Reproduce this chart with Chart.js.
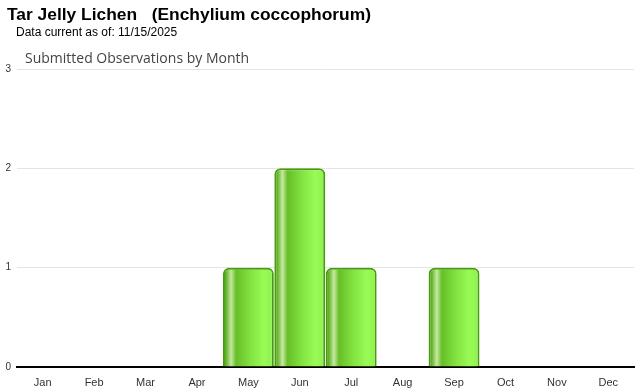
<!DOCTYPE html>
<html>
<head>
<meta charset="utf-8">
<script src="https://cdn.jsdelivr.net/npm/chart.js@4"></script>
<style>
    body { margin: 0; background: #fff; }
    #wrap { position: relative; width: 640px; height: 390px; }
    #title { position: absolute; left: 7px; top: 4px; font: bold 17.4px "Liberation Sans", Arial, sans-serif; color: #000; white-space: pre; }
    #sub { position: absolute; left: 16px; top: 25px; font: 12px "Liberation Sans", Arial, sans-serif; color: #000; }
    #ctitle { position: absolute; left: 25px; top: 48px; font: 14px "Open Sans", sans-serif; color: #444; }
    canvas { position: absolute; left: 0; top: 0; }
</style>
</head>
<body>
<div id="wrap">
    <canvas id="chart" width="640" height="390"></canvas>
    <div id="title">Tar Jelly Lichen   (Enchylium coccophorum)</div>
    <div id="sub">Data current as of: 11/15/2025</div>
    <div id="ctitle">Submitted Observations by Month</div>
</div>
<script>
const months = ['Jan', 'Feb', 'Mar', 'Apr', 'May', 'Jun', 'Jul', 'Aug', 'Sep', 'Oct', 'Nov', 'Dec'];
const observations = [0, 0, 0, 0, 1, 2, 1, 0, 1, 0, 0, 0];
const yTicks = [0, 1, 2, 3];

const catPct = 0.99;

// horizontal shading across each bar, like a glossy cylinder
function barGradient(ctx) {
    const chart = ctx.chart;
    const x = chart.scales.x;
    if (!x || !chart.chartArea) return '#77dd33';
    const center = x.getPixelForValue(ctx.dataIndex);
    const w = x.width / months.length * catPct;
    const g = chart.ctx.createLinearGradient(center - w / 2, 0, center + w / 2, 0);
    g.addColorStop(0, '#4c9c12');
    g.addColorStop(0.06, '#62b426');
    g.addColorStop(0.16, '#c6e8a0');
    g.addColorStop(0.26, '#66bf28');
    g.addColorStop(0.55, '#84e442');
    g.addColorStop(0.8, '#98fb56');
    g.addColorStop(1, '#8df04c');
    return g;
}

new Chart(document.getElementById('chart'), {
    type: 'bar',
    data: {
        labels: months,
        datasets: [{
            data: observations,
            backgroundColor: barGradient,
            borderColor: '#469c0c',
            borderWidth: 2,
            borderSkipped: 'bottom',
            borderRadius: { topLeft: 6, topRight: 6, bottomLeft: 0, bottomRight: 0 },
            barPercentage: 1,
            categoryPercentage: catPct
        }]
    },
    options: {
        responsive: false,
        animation: false,
        layout: { padding: { top: 69, right: 6, left: 0, bottom: 0 } },
        plugins: { legend: { display: false }, tooltip: { enabled: false } },
        scales: {
            x: {
                grid: { display: false },
                border: { color: '#000', width: 2 },
                ticks: { color: '#333', font: { family: 'Liberation Sans', size: 11 }, padding: 1 },
                afterFit: s => { s.height = 23; }
            },
            y: {
                min: yTicks[0],
                max: yTicks[yTicks.length - 1],
                afterBuildTicks: s => { s.ticks = yTicks.map(v => ({ value: v })); },
                grid: { color: '#e4e4e4', drawTicks: false },
                border: { display: false },
                ticks: { color: '#333', font: { family: 'Liberation Sans', size: 10 }, padding: 6 },
                afterFit: s => { s.width = 17; }
            }
        }
    }
});
</script>
</body>
</html>
